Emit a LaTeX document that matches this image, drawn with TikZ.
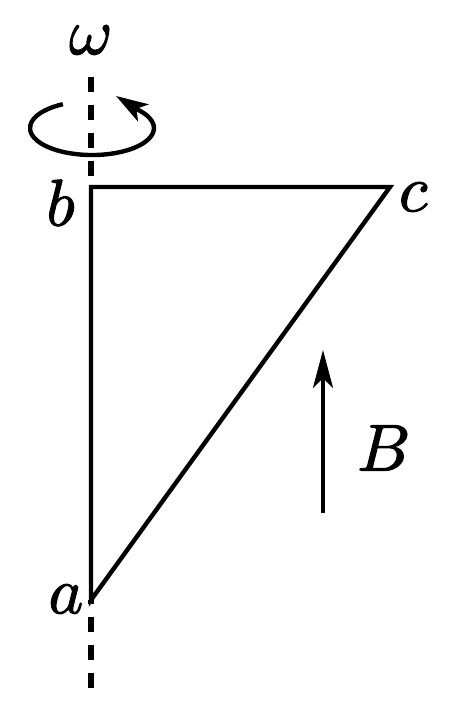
\documentclass[tikz,border=0pt]{standalone}
\usepackage{unicode-math}
\setmathfont{Latin Modern Math}[FakeBold=1.6]
\usetikzlibrary{arrows.meta}

\begin{document}
\begin{tikzpicture}[x=0.5pt, y=0.5pt, line width=2.2pt,
    lbl/.style={inner sep=0pt, font=\fontsize{33}{37}\selectfont},
    axis/.style={line width=2.6pt, dash pattern=on 7.5pt off 6.5pt}]
    \useasboundingbox (0,0) rectangle (472,702);
    \coordinate (T) at (91,625);
    \coordinate (b) at (91,515);
    \coordinate (c) at (390,515);
    \coordinate (a) at (91,102);
    \coordinate (U) at (91,14);
    \coordinate (S) at (62.9,597.8);
    \coordinate (W) at (116,606);
    \coordinate (B1) at (323,189);
    \coordinate (B2) at (323,352);
    % rotation axis
    \draw[axis] (T) -- (b);
    \draw[axis] (U) -- (a);
    % triangle
    \draw[line join=miter] (a) -- (b) -- (c) -- cycle;
    % sense of rotation
    \draw[-{Stealth[length=16pt, width=10pt, inset=4pt]}] (S)
        arc[start angle=118, end angle=392, x radius=31pt, y radius=13.5pt] -- (W);
    % field
    \draw[-{Stealth[length=19pt, width=10pt, inset=5pt]}] (B1) -- (B2);
    \node[lbl] (lw) at (90,662) {$\omega$};
    \node[lbl] (lb) at (61,499) {$b$};
    \node[lbl] (lc) at (414,505) {$c$};
    \node[lbl] (la) at (66,103) {$a$};
    \node[lbl] (lB) at (383,254) {$B$};
\end{tikzpicture}
\end{document}
